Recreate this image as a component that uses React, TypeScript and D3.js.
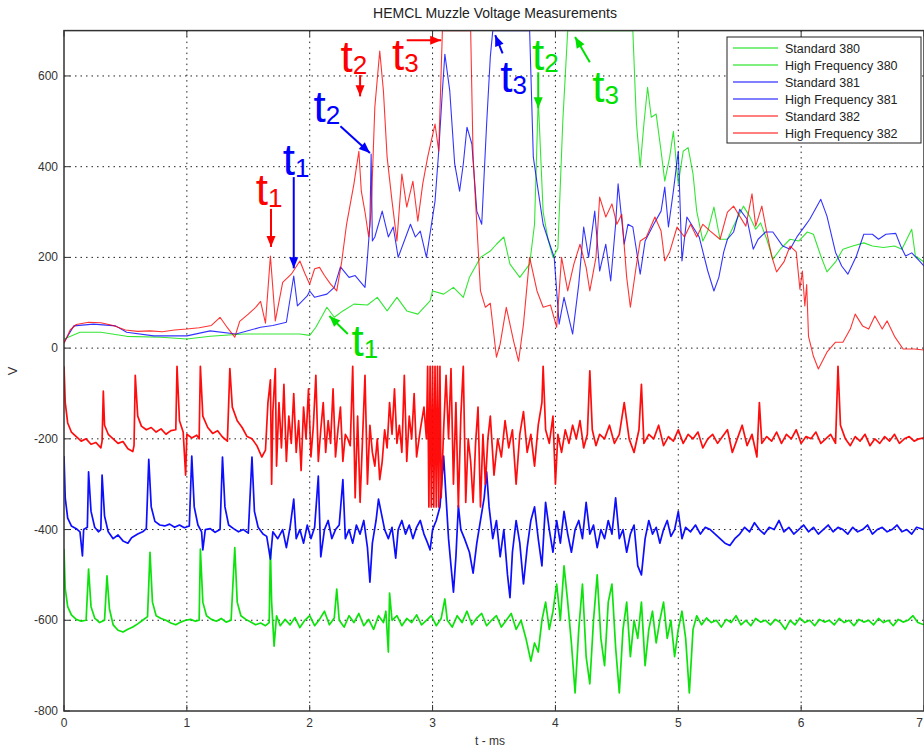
import * as d3 from "d3";

// time axis (ms) and voltage axis (V)
const xTicks = [0, 1, 2, 3, 4, 5, 6, 7];
const yTicks = [-800, -600, -400, -200, 0, 200, 400, 600];

// Standard probes (upper traces), [t ms, V]
const std380: [number, number][] = [
  [0, 20], [0.13, 35], [0.3, 35], [0.51, 26], [0.79, 24], [1.0, 20], [1.19, 26], [1.46, 31], [1.73, 31], [1.92, 31],
  [2.0, 28], [2.05, 46], [2.14, 90], [2.2, 68], [2.27, 82], [2.36, 97], [2.47, 95], [2.55, 112], [2.63, 82], [2.71, 112],
  [2.79, 82], [2.88, 75], [2.98, 104], [3.0, 126], [3.09, 119], [3.17, 134], [3.25, 112], [3.3, 156], [3.39, 200],
  [3.47, 214], [3.52, 229], [3.58, 245], [3.63, 185], [3.71, 156], [3.79, 185], [3.83, 273], [3.86, 550], [3.9, 300],
  [3.94, 240], [3.98, 200], [4.02, 220], [4.06, 500], [4.1, 700], [4.63, 700], [4.66, 494], [4.69, 399], [4.72, 494],
  [4.75, 575], [4.78, 509], [4.82, 516], [4.86, 434], [4.89, 368], [4.93, 421], [4.96, 478], [5.0, 362], [5.04, 434],
  [5.08, 442], [5.12, 384], [5.15, 302], [5.2, 236], [5.24, 258], [5.29, 311], [5.34, 240], [5.4, 240], [5.45, 269],
  [5.49, 291], [5.53, 313], [5.58, 291], [5.63, 262], [5.67, 276], [5.72, 240], [5.77, 196], [5.83, 218], [5.91, 240],
  [5.98, 236], [6.05, 256], [6.1, 251], [6.16, 203], [6.21, 168], [6.28, 190], [6.34, 218], [6.42, 225], [6.51, 232],
  [6.58, 225], [6.67, 222], [6.76, 225], [6.82, 218], [6.9, 262], [6.93, 203], [7.0, 190],
];

const std381: [number, number][] = [
  [0, 13], [0.08, 49], [0.24, 53], [0.42, 49], [0.51, 35], [0.73, 27], [1.0, 27], [1.19, 38], [1.4, 31], [1.6, 46],
  [1.7, 50], [1.81, 57], [1.87, 159], [1.9, 93], [1.98, 115], [2.0, 126], [2.04, 112], [2.14, 119], [2.2, 134],
  [2.25, 179], [2.32, 156], [2.37, 160], [2.45, 134], [2.47, 200], [2.49, 273], [2.5, 428], [2.51, 236], [2.53, 245],
  [2.59, 302], [2.64, 245], [2.68, 267], [2.72, 200], [2.82, 273], [2.86, 245], [2.9, 258], [2.95, 200], [3.02, 324],
  [3.05, 434], [3.08, 567], [3.1, 648], [3.14, 567], [3.18, 406], [3.22, 346], [3.25, 406], [3.28, 487], [3.32, 450],
  [3.36, 302], [3.4, 273], [3.44, 494], [3.47, 642], [3.49, 700], [3.79, 700], [3.82, 421], [3.86, 346], [3.9, 273],
  [3.94, 240], [3.99, 200], [4.03, 53], [4.07, 112], [4.14, 31], [4.19, 141], [4.23, 267], [4.27, 200], [4.32, 302],
  [4.36, 170], [4.41, 229], [4.45, 148], [4.49, 273], [4.51, 362], [4.56, 229], [4.59, 273], [4.63, 267], [4.69, 163],
  [4.73, 236], [4.8, 273], [4.86, 302], [4.89, 355], [4.92, 267], [4.96, 346], [5.0, 434], [5.03, 192], [5.07, 289],
  [5.12, 267], [5.17, 245], [5.24, 170], [5.29, 126], [5.33, 156], [5.37, 212], [5.4, 240], [5.45, 256], [5.5, 306],
  [5.56, 284], [5.61, 218], [5.65, 240], [5.71, 256], [5.77, 256], [5.85, 225], [5.91, 218], [5.97, 247], [6.03, 269],
  [6.07, 284], [6.16, 328], [6.21, 291], [6.28, 211], [6.33, 181], [6.38, 163], [6.45, 203], [6.51, 251], [6.58, 251],
  [6.63, 240], [6.69, 251], [6.77, 253], [6.81, 225], [6.85, 203], [6.9, 210], [6.97, 190], [7.0, 181],
];

const std382: [number, number][] = [
  [0, 10], [0.05, 40], [0.1, 52], [0.2, 57], [0.3, 56], [0.4, 50], [0.5, 40], [0.6, 37], [0.7, 38], [0.8, 36],
  [0.9, 40], [1.0, 42], [1.1, 45], [1.2, 50], [1.27, 68], [1.33, 45], [1.39, 24], [1.43, 59], [1.5, 75], [1.56, 90],
  [1.6, 103], [1.64, 55], [1.68, 203], [1.72, 60], [1.78, 145], [1.85, 163], [1.92, 192], [1.96, 165], [2.0, 141],
  [2.04, 175], [2.08, 178], [2.12, 160], [2.17, 141], [2.22, 126], [2.26, 190], [2.3, 273], [2.36, 362], [2.4, 434],
  [2.42, 346], [2.45, 300], [2.48, 245], [2.5, 302], [2.53, 531], [2.57, 655], [2.6, 567], [2.63, 421], [2.67, 324],
  [2.71, 236], [2.75, 384], [2.79, 311], [2.84, 368], [2.88, 280], [2.92, 362], [2.96, 421], [3.02, 494], [3.05, 434],
  [3.08, 700], [3.31, 700], [3.33, 421], [3.36, 273], [3.39, 126], [3.43, 90], [3.47, 99], [3.52, -20], [3.55, 9],
  [3.6, 90], [3.66, 15], [3.7, -29], [3.74, 53], [3.79, 200], [3.85, 126], [3.9, 90], [3.96, 95], [4.01, 46],
  [4.05, 200], [4.1, 126], [4.15, 185], [4.2, 229], [4.25, 178], [4.28, 126], [4.33, 200], [4.36, 333], [4.41, 289],
  [4.46, 318], [4.5, 273], [4.54, 295], [4.58, 156], [4.61, 90], [4.66, 185], [4.69, 236], [4.74, 245], [4.81, 289],
  [4.86, 258], [4.89, 192], [4.93, 212], [4.99, 267], [5.05, 245], [5.1, 273], [5.15, 245], [5.2, 273], [5.26, 258],
  [5.34, 240], [5.4, 300], [5.45, 313], [5.49, 295], [5.55, 269], [5.6, 340], [5.63, 269], [5.68, 313], [5.72, 256],
  [5.76, 203], [5.8, 168], [5.86, 190], [5.91, 225], [5.96, 212], [5.99, 130], [6.01, 170], [6.03, 93], [6.045, 140],
  [6.06, 26], [6.1, -18], [6.14, -46], [6.21, -9], [6.28, 13], [6.34, 13], [6.4, 42], [6.44, 75], [6.5, 49],
  [6.55, 42], [6.6, 71], [6.66, 42], [6.7, 60], [6.76, 26], [6.83, -2], [6.92, -2], [7.0, -4],
];

// High frequency probes (lower, offset traces)
const hf380: [number, number][] = [
  [0, -443], [0.01, -530], [0.03, -570], [0.06, -588], [0.1, -598], [0.14, -602], [0.18, -600], [0.2, -487], [0.22, -570],
  [0.25, -595], [0.29, -605], [0.33, -600], [0.35, -502], [0.37, -575], [0.4, -610], [0.44, -622], [0.48, -626],
  [0.52, -620], [0.56, -615], [0.6, -608], [0.64, -600], [0.68, -592], [0.7, -450], [0.72, -560], [0.75, -590],
  [0.79, -596], [0.83, -600], [0.87, -606], [0.91, -610], [0.95, -604], [0.99, -600], [1.03, -598], [1.07, -602],
  [1.1, -600], [1.11, -443], [1.13, -560], [1.16, -590], [1.2, -598], [1.24, -602], [1.28, -596], [1.32, -604],
  [1.36, -600], [1.39, -440], [1.41, -560], [1.44, -590], [1.48, -598], [1.52, -604], [1.56, -610], [1.6, -606],
  [1.64, -612], [1.67, -605], [1.68, -443], [1.69, -560], [1.71, -657], [1.73, -590], [1.76, -612], [1.8, -598],
  [1.84, -610], [1.88, -594], [1.92, -616], [1.96, -600], [2.0, -590], [2.04, -612], [2.08, -598], [2.12, -580],
  [2.16, -610], [2.2, -595], [2.22, -531], [2.24, -600], [2.28, -615], [2.32, -590], [2.36, -605], [2.4, -585],
  [2.44, -612], [2.48, -598], [2.52, -620], [2.56, -590], [2.6, -605], [2.62, -580], [2.64, -670], [2.65, -540],
  [2.67, -600], [2.71, -590], [2.75, -612], [2.79, -596], [2.83, -605], [2.87, -588], [2.91, -610], [2.95, -600],
  [2.99, -590], [3.03, -612], [3.07, -596], [3.1, -553], [3.12, -600], [3.16, -615], [3.2, -590], [3.24, -605],
  [3.28, -580], [3.32, -610], [3.36, -595], [3.4, -585], [3.44, -612], [3.48, -600], [3.52, -590], [3.56, -615],
  [3.6, -600], [3.64, -585], [3.68, -620], [3.72, -600], [3.76, -640], [3.8, -690], [3.83, -650], [3.86, -670],
  [3.89, -600], [3.92, -560], [3.95, -620], [3.98, -580], [4.01, -520], [4.04, -600], [4.07, -480], [4.1, -560],
  [4.13, -650], [4.16, -760], [4.19, -620], [4.22, -520], [4.25, -680], [4.28, -740], [4.31, -600], [4.34, -500],
  [4.37, -640], [4.4, -700], [4.43, -560], [4.46, -520], [4.49, -660], [4.52, -760], [4.55, -620], [4.58, -560],
  [4.61, -680], [4.64, -600], [4.67, -640], [4.7, -560], [4.73, -700], [4.76, -620], [4.79, -580], [4.82, -650],
  [4.85, -600], [4.88, -560], [4.91, -640], [4.94, -600], [4.97, -680], [5.0, -620], [5.03, -580], [5.06, -640],
  [5.09, -760], [5.12, -620], [5.15, -590], [5.19, -610], [5.23, -595], [5.27, -605], [5.31, -600], [5.35, -615],
  [5.39, -598], [5.43, -605], [5.47, -590], [5.51, -610], [5.55, -600], [5.59, -612], [5.63, -596], [5.67, -604],
  [5.71, -600], [5.75, -610], [5.79, -598], [5.83, -605], [5.87, -620], [5.91, -600], [5.95, -610], [5.99, -595],
  [6.03, -605], [6.07, -600], [6.11, -612], [6.15, -598], [6.19, -604], [6.23, -600], [6.27, -610], [6.31, -596],
  [6.35, -605], [6.39, -600], [6.43, -612], [6.47, -598], [6.51, -604], [6.55, -600], [6.59, -610], [6.63, -596],
  [6.67, -605], [6.71, -600], [6.75, -612], [6.79, -598], [6.83, -604], [6.87, -600], [6.91, -590], [6.95, -605],
  [7.0, -610],
];

const hf381: [number, number][] = [
  [0, -238], [0.01, -330], [0.03, -375], [0.06, -392], [0.1, -398], [0.13, -405], [0.15, -458], [0.16, -400],
  [0.19, -395], [0.2, -273], [0.22, -360], [0.25, -395], [0.28, -405], [0.3, -400], [0.31, -280], [0.33, -370],
  [0.36, -405], [0.4, -420], [0.44, -412], [0.48, -425], [0.52, -430], [0.55, -418], [0.6, -410], [0.64, -405],
  [0.67, -398], [0.69, -245], [0.71, -350], [0.74, -382], [0.78, -390], [0.82, -392], [0.86, -388], [0.9, -395],
  [0.94, -390], [0.98, -396], [1.02, -392], [1.04, -238], [1.06, -350], [1.09, -390], [1.12, -405], [1.13, -445],
  [1.15, -400], [1.19, -398], [1.23, -406], [1.27, -400], [1.29, -240], [1.31, -350], [1.34, -390], [1.38, -398],
  [1.42, -405], [1.46, -400], [1.5, -408], [1.53, -240], [1.55, -360], [1.58, -395], [1.62, -410], [1.65, -415],
  [1.68, -465], [1.7, -405], [1.74, -420], [1.78, -400], [1.81, -440], [1.84, -395], [1.87, -333], [1.89, -420],
  [1.92, -400], [1.95, -430], [1.98, -390], [2.01, -420], [2.04, -395], [2.07, -282], [2.09, -460], [2.12, -400],
  [2.15, -380], [2.18, -420], [2.21, -400], [2.24, -390], [2.27, -290], [2.29, -420], [2.32, -400], [2.35, -430],
  [2.38, -390], [2.41, -410], [2.44, -380], [2.47, -440], [2.49, -516], [2.51, -430], [2.54, -380], [2.56, -333],
  [2.58, -360], [2.61, -400], [2.64, -420], [2.67, -395], [2.7, -463], [2.72, -400], [2.75, -380], [2.78, -410],
  [2.81, -390], [2.84, -420], [2.87, -395], [2.9, -380], [2.93, -410], [2.96, -430], [2.98, -445], [3.0, -400],
  [3.03, -380], [3.06, -350], [3.09, -238], [3.11, -330], [3.13, -420], [3.15, -480], [3.17, -538], [3.19, -460],
  [3.21, -347], [3.23, -400], [3.26, -420], [3.3, -450], [3.33, -496], [3.36, -430], [3.39, -380], [3.42, -330],
  [3.44, -273], [3.46, -350], [3.49, -420], [3.52, -380], [3.55, -460], [3.58, -400], [3.61, -500], [3.63, -550],
  [3.65, -450], [3.68, -380], [3.71, -430], [3.74, -520], [3.77, -440], [3.8, -380], [3.83, -350], [3.86, -420],
  [3.89, -480], [3.92, -340], [3.95, -400], [3.98, -450], [4.01, -380], [4.04, -430], [4.07, -360], [4.1, -410],
  [4.13, -450], [4.16, -400], [4.19, -380], [4.22, -420], [4.25, -340], [4.28, -410], [4.31, -390], [4.34, -440],
  [4.37, -400], [4.4, -420], [4.43, -380], [4.46, -410], [4.49, -330], [4.52, -420], [4.55, -400], [4.58, -450],
  [4.61, -410], [4.64, -390], [4.67, -480], [4.7, -500], [4.73, -420], [4.76, -380], [4.79, -410], [4.82, -395],
  [4.85, -430], [4.88, -400], [4.91, -380], [4.94, -415], [4.97, -400], [5.0, -360], [5.03, -420], [5.06, -395],
  [5.1, -405], [5.14, -390], [5.18, -410], [5.22, -395], [5.26, -400], [5.3, -410], [5.34, -420], [5.38, -430],
  [5.42, -435], [5.46, -420], [5.5, -410], [5.54, -395], [5.58, -405], [5.62, -385], [5.66, -400], [5.7, -410],
  [5.74, -395], [5.78, -400], [5.82, -380], [5.86, -405], [5.9, -395], [5.94, -410], [5.98, -400], [6.02, -390],
  [6.06, -405], [6.1, -395], [6.14, -410], [6.18, -400], [6.22, -390], [6.26, -405], [6.3, -395], [6.34, -400],
  [6.38, -410], [6.42, -395], [6.46, -405], [6.5, -400], [6.54, -390], [6.58, -410], [6.62, -400], [6.66, -395],
  [6.7, -405], [6.74, -400], [6.78, -390], [6.82, -405], [6.86, -400], [6.9, -410], [6.94, -395], [7.0, -400],
];

const hf382: [number, number][] = [
  [0, -40], [0.01, -120], [0.03, -165], [0.06, -185], [0.1, -195], [0.14, -205], [0.18, -200], [0.22, -212],
  [0.26, -208], [0.3, -220], [0.31, -205], [0.32, -95], [0.33, -170], [0.36, -190], [0.4, -200], [0.44, -210],
  [0.48, -206], [0.52, -222], [0.56, -228], [0.57, -215], [0.58, -60], [0.6, -150], [0.63, -172], [0.67, -180],
  [0.71, -175], [0.75, -185], [0.79, -178], [0.83, -190], [0.87, -182], [0.91, -180], [0.92, -40], [0.94, -160],
  [0.97, -185], [0.99, -280], [1.0, -190], [1.04, -198], [1.08, -192], [1.1, -200], [1.11, -40], [1.13, -150],
  [1.17, -175], [1.21, -188], [1.25, -182], [1.29, -196], [1.33, -205], [1.35, -45], [1.37, -130], [1.41, -160],
  [1.45, -175], [1.49, -195], [1.53, -200], [1.57, -215], [1.61, -240], [1.64, -225], [1.66, -120], [1.68, -70],
  [1.69, -300], [1.7, -140], [1.72, -45], [1.73, -260], [1.75, -120], [1.77, -220], [1.79, -80], [1.81, -250],
  [1.83, -150], [1.85, -210], [1.87, -100], [1.89, -230], [1.91, -160], [1.93, -270], [1.95, -130], [1.97, -200],
  [1.99, -90], [2.01, -240], [2.03, -170], [2.05, -60], [2.07, -250], [2.09, -180], [2.11, -120], [2.13, -230],
  [2.15, -160], [2.17, -210], [2.19, -90], [2.21, -240], [2.23, -180], [2.25, -130], [2.27, -250], [2.29, -190],
  [2.31, -200], [2.33, -215], [2.35, -40], [2.37, -330], [2.39, -150], [2.41, -340], [2.43, -200], [2.45, -60],
  [2.47, -300], [2.49, -170], [2.51, -230], [2.53, -260], [2.55, -200], [2.57, -290], [2.59, -250], [2.61, -180],
  [2.63, -220], [2.65, -120], [2.67, -190], [2.69, -90], [2.71, -210], [2.73, -170], [2.75, -230], [2.77, -60],
  [2.79, -250], [2.81, -150], [2.83, -200], [2.85, -100], [2.87, -240], [2.9, -180], [2.93, -130], [2.95, -200],
  [2.96, -40], [2.97, -350], [2.98, -40], [2.99, -350], [3.0, -40], [3.01, -350], [3.02, -40], [3.03, -350],
  [3.04, -40], [3.05, -350], [3.06, -40], [3.07, -330], [3.09, -180], [3.11, -60], [3.13, -200], [3.15, -45],
  [3.17, -300], [3.19, -120], [3.21, -350], [3.23, -150], [3.25, -40], [3.27, -340], [3.29, -200], [3.31, -250],
  [3.33, -340], [3.35, -210], [3.37, -130], [3.39, -350], [3.41, -190], [3.43, -300], [3.45, -200], [3.47, -150],
  [3.5, -280], [3.53, -200], [3.56, -240], [3.59, -160], [3.62, -220], [3.65, -180], [3.68, -300], [3.71, -190],
  [3.74, -140], [3.77, -230], [3.8, -190], [3.83, -260], [3.86, -170], [3.89, -120], [3.9, -40], [3.92, -180],
  [3.95, -210], [3.98, -150], [4.0, -300], [4.02, -190], [4.05, -230], [4.08, -180], [4.11, -210], [4.14, -170],
  [4.17, -200], [4.2, -160], [4.23, -220], [4.26, -190], [4.28, -50], [4.3, -180], [4.33, -215], [4.36, -190],
  [4.4, -200], [4.44, -170], [4.48, -210], [4.52, -190], [4.56, -120], [4.6, -200], [4.64, -230], [4.68, -180],
  [4.7, -80], [4.72, -210], [4.76, -190], [4.8, -200], [4.84, -170], [4.88, -215], [4.92, -195], [4.96, -205],
  [5.0, -180], [5.04, -210], [5.08, -190], [5.12, -200], [5.16, -185], [5.2, -220], [5.24, -200], [5.28, -190],
  [5.32, -210], [5.36, -195], [5.4, -180], [5.44, -230], [5.48, -200], [5.52, -170], [5.56, -215], [5.6, -190],
  [5.64, -240], [5.66, -120], [5.68, -210], [5.72, -195], [5.76, -205], [5.8, -185], [5.84, -210], [5.88, -190],
  [5.92, -200], [5.96, -180], [6.0, -210], [6.04, -195], [6.08, -200], [6.12, -185], [6.16, -210], [6.2, -200],
  [6.24, -190], [6.28, -210], [6.3, -40], [6.32, -170], [6.36, -200], [6.4, -215], [6.44, -195], [6.48, -205],
  [6.52, -190], [6.56, -215], [6.6, -200], [6.64, -210], [6.68, -195], [6.72, -205], [6.76, -190], [6.8, -210],
  [6.84, -200], [6.88, -195], [6.92, -205], [6.96, -200], [7.0, -198],
];

const seriesNames = [
  "Standard 380", "High Frequency 380",
  "Standard 381", "High Frequency 381",
  "Standard 382", "High Frequency 382",
];
const seriesColors = ["#00e000", "#00e000", "#0000ff", "#0000ff", "#ff0000", "#ff0000"];
const seriesData = [std380, hf380, std381, hf381, std382, hf382];

// t1/t2/t3 markers, text anchor + arrow from/to, all in data units
const markers = [
  { sub: "1", color: "#ff0000", at: [1.56, 315], from: [1.685, 307], to: [1.685, 223] },
  { sub: "1", color: "#0000ff", at: [1.78, 381], from: [1.87, 377], to: [1.87, 176] },
  { sub: "2", color: "#0000ff", at: [2.03, 498], from: [2.25, 489], to: [2.49, 430] },
  { sub: "2", color: "#ff0000", at: [2.25, 608], from: [2.41, 602], to: [2.41, 555] },
  { sub: "3", color: "#ff0000", at: [2.67, 613], from: [2.79, 679], to: [3.07, 679] },
  { sub: "3", color: "#0000ff", at: [3.55, 564], from: [3.57, 650], to: [3.51, 690] },
  { sub: "2", color: "#00e000", at: [3.81, 613], from: [3.86, 608], to: [3.86, 529] },
  { sub: "3", color: "#00e000", at: [4.3, 542], from: [4.28, 630], to: [4.16, 686] },
  { sub: "1", color: "#00e000", at: [2.34, -18], from: [2.31, 31], to: [2.16, 71] },
];

const W = 924;
const H = 749;
const left = 64;
const right = 924;
const top = 30.6;
const bottom = 711;
const font = "'Liberation Sans', Arial, sans-serif";

export default function App() {
  const x = d3.scaleLinear().domain([0, 7]).range([left, right]);
  const y = d3.scaleLinear().domain([-800, 700]).range([bottom, top]);

  const line = d3.line<[number, number]>()
    .x(d => x(d[0]))
    .y(d => y(d[1]));

  // arrow head as a small triangle at the tip
  const arrowHead = (fx: number, fy: number, tx: number, ty: number) => {
    const a = Math.atan2(ty - fy, tx - fx);
    const len = 11;
    const half = 4.5;
    const bx = tx - len * Math.cos(a);
    const by = ty - len * Math.sin(a);
    const px = -Math.sin(a) * half;
    const py = Math.cos(a) * half;
    return `M${tx},${ty}L${bx + px},${by + py}L${bx - px},${by - py}Z`;
  };

  return (
    <svg width={W} height={H} style={{ position: "absolute", left: 0, top: 0, background: "#fff" }} fontFamily={font}>
      <defs>
        <clipPath id="plot">
          <rect x={left} y={top} width={right - left} height={bottom - top} />
        </clipPath>
      </defs>

      <text x={495} y={18} textAnchor="middle" fontSize={14} fill="#222">HEMCL Muzzle Voltage Measurements</text>

      {/* grid */}
      <g stroke="#222" strokeWidth={1} strokeDasharray="1.5,4">
        {xTicks.slice(1, -1).map(t => (
          <line key={"gx" + t} x1={x(t)} x2={x(t)} y1={top} y2={bottom} />
        ))}
        {yTicks.slice(1).map(v => (
          <line key={"gy" + v} x1={left} x2={right} y1={y(v)} y2={y(v)} />
        ))}
      </g>

      {/* traces */}
      <g clipPath="url(#plot)" fill="none">
        {seriesData.map((d, i) => (
          <path key={seriesNames[i]} d={line(d) || ""} stroke={seriesColors[i]}
            strokeWidth={i % 2 === 0 ? 1.1 : 1.7} strokeOpacity={i % 2 === 0 ? 0.8 : 0.95}
            strokeLinejoin="round" />
        ))}
      </g>

      {/* frame */}
      <rect x={left} y={top} width={right - left} height={bottom - top} fill="none" stroke="#333" strokeWidth={1.5} />

      {/* ticks */}
      <g stroke="#333" strokeWidth={1}>
        {xTicks.map(t => (
          <g key={"tx" + t}>
            <line x1={x(t)} x2={x(t)} y1={bottom} y2={bottom - 6} />
            <line x1={x(t)} x2={x(t)} y1={top} y2={top + 6} />
          </g>
        ))}
        {yTicks.map(v => (
          <line key={"ty" + v} x1={left} x2={left + 6} y1={y(v)} y2={y(v)} />
        ))}
      </g>
      <g fontSize={12} fill="#333">
        {xTicks.map((t, i) => (
          <text key={"lx" + t} x={i === xTicks.length - 1 ? x(t) - 1 : x(t)} y={bottom + 16}
            textAnchor={i === xTicks.length - 1 ? "end" : "middle"}>{t}</text>
        ))}
        {yTicks.map(v => (
          <text key={"ly" + v} x={left - 6} y={y(v) + 4} textAnchor="end">{v}</text>
        ))}
      </g>
      <text x={490} y={745} textAnchor="middle" fontSize={12} fill="#333">t - ms</text>
      <text transform={`translate(17,${y(-50)}) rotate(-90)`} textAnchor="middle" fontSize={13} fill="#333">V</text>

      {/* t markers */}
      {markers.map((m, i) => {
        const fx = x(m.from[0]), fy = y(m.from[1]);
        const tx = x(m.to[0]), ty = y(m.to[1]);
        return (
          <g key={"m" + i} fill={m.color}>
            <text x={x(m.at[0])} y={y(m.at[1])} fontSize={44}>
              t<tspan fontSize={26} dy={2}>{m.sub}</tspan>
            </text>
            <line x1={fx} y1={fy} x2={tx} y2={ty} stroke={m.color} strokeWidth={2} />
            <path d={arrowHead(fx, fy, tx, ty)} />
          </g>
        );
      })}

      {/* legend */}
      <g>
        <rect x={727} y={37} width={194} height={106} fill="#fff" stroke="#222" strokeWidth={1} />
        {seriesNames.map((name, i) => (
          <g key={"lg" + name}>
            <line x1={733} x2={778} y1={48 + i * 17} y2={48 + i * 17} stroke={seriesColors[i]} strokeWidth={1.2} />
            <text x={785} y={48 + i * 17 + 4.5} fontSize={12.5} fill="#222">{name}</text>
          </g>
        ))}
      </g>
    </svg>
  );
}
